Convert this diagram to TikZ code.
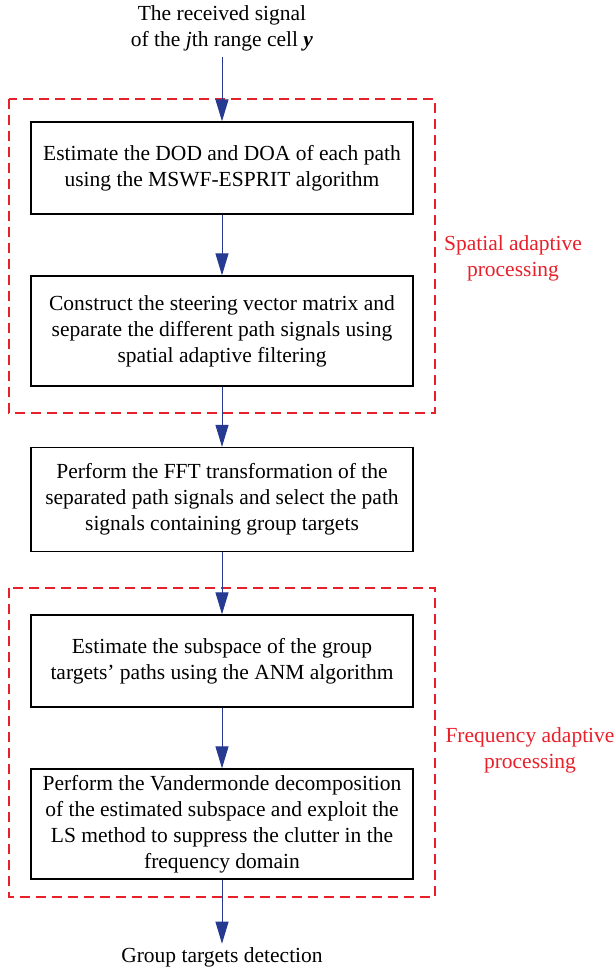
\documentclass[tikz,border=0pt]{standalone}
\usepackage{fontspec}
\setmainfont{Liberation Serif}
\usetikzlibrary{arrows.meta}
\definecolor{flowblue}{RGB}{38,58,145}
\definecolor{groupred}{RGB}{232,32,42}
\tikzset{
  plain/.style={align=center, font=\fontsize{21.5}{26}\selectfont},
  stepbox/.style={plain, draw, line width=1.3pt, minimum width=382pt, inner sep=0pt},
  grouplabel/.style={plain, text=groupred},
  groupbox/.style={draw=groupred, line width=1.2pt, dash pattern=on 10pt off 6pt},
  flow/.style={draw=flowblue, line width=1pt, -{Triangle[length=22pt,width=13pt]}}
}
\begin{document}
\begin{tikzpicture}[x=1pt,y=-1pt]
  \useasboundingbox (0,0) rectangle (615,969);
  \pgfmathsetmacro{\cx}{222}
  % input and output
  \node[plain, outer sep=3pt] (input) at (\cx, 28)
       {The received signal\\of the \textit{j}th range cell \textbf{\textit{y}}};
  \node[plain] (output) at (\cx, 957) {Group targets detection};
  % processing steps
  \node[stepbox, minimum height=92pt] (dod) at (\cx, 168)
       {Estimate the DOD and DOA of each path\\using the MSWF-ESPRIT algorithm};
  \node[stepbox, minimum height=110pt] (sep) at (\cx, 331)
       {Construct the steering vector matrix and\\separate the different path signals using\\spatial adaptive filtering};
  \node[stepbox, minimum height=104pt] (fft) at (\cx, 499.5)
       {Perform the FFT transformation of the\\separated path signals and select the path\\signals containing group targets};
  \node[stepbox, minimum height=92pt] (anm) at (\cx, 661)
       {Estimate the subspace of the group\\targets' paths using the ANM algorithm};
  \node[stepbox, minimum height=110pt] (vdm) at (\cx, 824)
       {Perform the Vandermonde decomposition\\of the estimated subspace and exploit the\\LS method to suppress the clutter in the\\frequency domain};
  % adaptive processing groups
  \draw[groupbox] (9, 99) rectangle (435, 413);
  \draw[groupbox] (9, 588) rectangle (435, 897);
  \node[grouplabel] (spatial) at (513, 258) {Spatial adaptive\\processing};
  \node[grouplabel] (freq) at (530, 750) {Frequency adaptive\\processing};
  % connectors
  \draw[flow] (input) -- (dod);
  \draw[flow] (dod) -- (sep);
  \draw[flow] (sep) -- (fft);
  \draw[flow] (fft) -- (anm);
  \draw[flow] (anm) -- (vdm);
  \draw[flow] (vdm) -- (output);
\end{tikzpicture}
\end{document}
